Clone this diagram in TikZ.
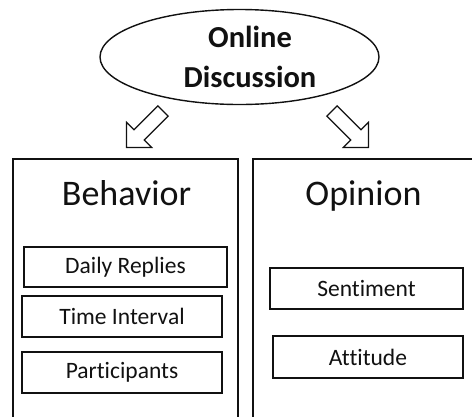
\documentclass[tikz,border=0pt]{standalone}
\usepackage{fontspec}
\setmainfont{Carlito}[Ligatures=NoCommon]
\usepackage{xcolor}
\usetikzlibrary{shapes.geometric}
\definecolor{ink}{HTML}{111111}

% hollow block arrow: #1 = tail coordinate, #2 = direction
\newcommand{\hollowarrow}[2]{\draw[blockarrow,shift={(#1)},rotate=#2] (0,-7.3)--(33.8,-7.3)--(33.8,-17.7)--(51.5,0)--(33.8,17.7)--(33.8,7.3)--(0,7.3)--cycle;}

\begin{document}
\begin{tikzpicture}[x=1pt,y=-1pt,
  topic/.style={draw=ink,line width=1.4pt,ellipse,minimum width=279pt,minimum height=95pt,inner sep=0},
  topictext/.style={font=\bfseries\fontsize{30.5}{34}\selectfont,text=ink,anchor=base},
  panel/.style={draw=ink,line width=1.8pt,inner sep=0},
  heading/.style={font=\fontsize{36}{40}\selectfont,text=ink,anchor=base},
  item/.style={draw=ink,line width=1.8pt,inner sep=0,font=\fontsize{23.5}{26}\selectfont,text=ink},
  blockarrow/.style={draw=ink,line width=1.3pt,line join=miter,fill=white}]
\useasboundingbox (0,0) rectangle (472,416);\fill[white] (0,0) rectangle (472,416);
\clip (0,0) rectangle (472,416);
% top topic
\node[topic] (disc) at (239.5,57) {};
\node[topictext] (online) at (250,47) {Online};\node[topictext] (discussion) at (250,87) {Discussion};
% two panels, open below the page edge
\node[panel,minimum width=225pt,minimum height=290pt] (behavior) at (125.5,304) {};
\node[panel,minimum width=240pt,minimum height=290pt] (opinion) at (373,304) {};
\node[heading] (behavtitle) at (126.5,205) {Behavior};\node[heading] (opintitle) at (363.5,205) {Opinion};
% block arrows from the topic down to the panels
\coordinate (ltail) at (163,111);\coordinate (rtail) at (332,111);
\hollowarrow{ltail}{-135}\hollowarrow{rtail}{-45}
% behavior items
\node[item,minimum width=203pt,minimum height=40pt] (daily) at (125.5,267) {Daily Replies};
\node[item,minimum width=200pt,minimum height=41pt] (interval) at (122,316.5) {Time Interval};
\node[item,minimum width=200pt,minimum height=41pt] (partic) at (122,372.5) {Participants};
% opinion items
\node[item,minimum width=193pt,minimum height=41pt] (senti) at (366.5,288.5) {Sentiment};
\node[item,minimum width=190pt,minimum height=42pt] (attit) at (368,357) {Attitude};
\end{tikzpicture}
\end{document}
